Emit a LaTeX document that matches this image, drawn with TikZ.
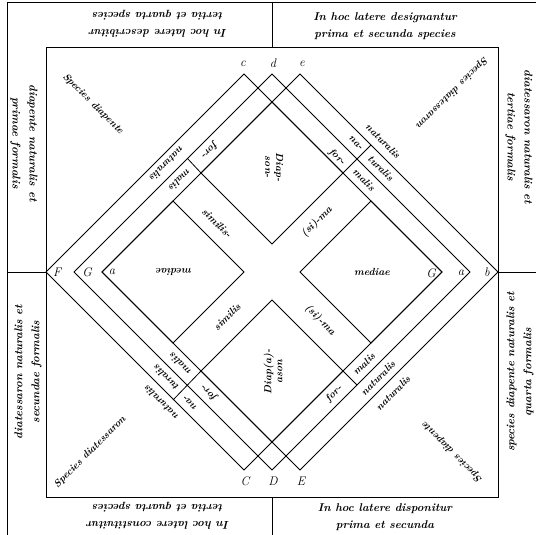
\documentclass[tikz,border=0pt]{standalone}
\usepackage{fontspec}
\begin{document}
\begin{tikzpicture}[x=1pt,y=-1pt,
  ln/.style={line width=0.8pt},
  cell/.style={font=\fontsize{11.3}{17}\selectfont\bfseries\itshape, align=center, inner sep=0pt},
  lab/.style={font=\fontsize{10}{11}\selectfont\bfseries\itshape, inner sep=0pt},
  cen/.style={font=\fontsize{10.3}{11}\selectfont\bfseries\itshape, inner sep=0pt, align=center},
  pt/.style={font=\fontsize{12.5}{14}\selectfont\itshape, inner sep=0pt}]
\useasboundingbox (0,0) rectangle (536,535);
% outer frame
\coordinate (o1) at (7,2); \coordinate (o2) at (536,2); \coordinate (o3) at (7,535);
\coordinate (q1) at (46,47.5); \coordinate (q2) at (498,497.5);
\coordinate (dt1) at (272,2); \coordinate (dt2) at (272,47.5);
\coordinate (db1) at (272,497.5); \coordinate (db2) at (272,535);
\coordinate (dl1) at (7,272); \coordinate (dr2) at (536,272);
\draw[ln] (o3) -- (o1) -- (o2);
\draw[ln] (q1) rectangle (q2);
\draw[ln] (dt1) -- (dt2);
\draw[ln] (db1) -- (db2);
% big squares
\coordinate (F) at (46,272); \coordinate (c) at (244,74); \coordinate (Gr) at (442,272); \coordinate (C) at (244,470);
\coordinate (Gl) at (74,272); \coordinate (d) at (272,74); \coordinate (ar) at (470,272); \coordinate (D) at (272,470);
\coordinate (al) at (102,272); \coordinate (e) at (300,74); \coordinate (b) at (498,272); \coordinate (E) at (300,470);
\draw[ln] (dl1) -- (F);
\draw[ln] (b) -- (dr2);
\draw[ln] (F) -- (c) -- (Gr) -- (C) -- cycle;
\draw[ln] (Gl) -- (d) -- (ar) -- (D) -- cycle;
\draw[ln] (al) -- (e) -- (b) -- (E) -- cycle;
% inner diamonds
\coordinate (Lt) at (173,201); \coordinate (Lr) at (244,272); \coordinate (Lb) at (173,343);
\coordinate (Rl) at (300,272); \coordinate (Rt) at (371,201); \coordinate (Rb) at (371,343);
\coordinate (Tt) at (272,102); \coordinate (Tr) at (343,173); \coordinate (Tb) at (272,244); \coordinate (Tl) at (201,173);
\coordinate (Bt) at (272,300); \coordinate (Br) at (343,371); \coordinate (Bb) at (272,442); \coordinate (Bl) at (201,371);
\draw[ln] (al) -- (Lt) -- (Lr) -- (Lb) -- cycle;
\draw[ln] (Rl) -- (Rt) -- (Gr) -- (Rb) -- cycle;
\draw[ln] (Tt) -- (Tr) -- (Tb) -- (Tl) -- cycle;
\draw[ln] (Bt) -- (Br) -- (Bb) -- (Bl) -- cycle;
% dividers
\coordinate (xUL) at (187.5,158.5); \coordinate (xUR) at (371,145);
\coordinate (xLL) at (173,400); \coordinate (xLR) at (357,385);
\draw[ln] (Tl) -- (xUL);
\draw[ln] (Tr) -- (xUR);
\draw[ln] (Bl) -- (xLL);
\draw[ln] (Br) -- (xLR);
% point labels
\node[pt] (lc) at (243,64) {c};
\node[pt] (ld) at (273,63) {d};
\node[pt] (le) at (302,64) {e};
\node[pt] (lC) at (245,481) {C};
\node[pt] (lD) at (273,481) {D};
\node[pt] (lE) at (301,481) {E};
\node[pt] (lF) at (57,272) {F};
\node[pt] (lGl) at (87,272) {G};
\node[pt] (lal) at (112,272) {a};
\node[pt] (lGr) at (431,273) {G};
\node[pt] (lar) at (461,273) {a};
\node[pt] (lb) at (487,272) {b};
% cell texts
\node[cell,rotate=180] (tTL) at (158,24) {In hoc latere describitur\\tertia et quarta species};
\node[cell] (tTR) at (385,26) {In hoc latere designantur\\prima et secunda species};
\node[cell,rotate=180] (tBL) at (158,516) {In hoc latere constituitur\\tertia et quarta species};
\node[cell] (tBR) at (385,517) {In hoc latere disponitur\\prima et secunda};
\node[cell,rotate=-90] (tLT) at (24,143) {diapente naturalis et\\primae formalis};
\node[cell,rotate=-90] (tRT) at (519,137) {diatessaron naturalis et\\tertiae formalis};
\node[cell,rotate=90] (tLB) at (28,372) {diatessaron naturalis et\\secundae formalis};
\node[cell,rotate=90] (tRB) at (520,372) {species diapente naturalis et\\quarta formalis};
% corner species
\node[lab,rotate=-45] (sUL) at (93,104) {Species diapente};
\node[lab,rotate=225] (sUR) at (452,93) {Species diatessaron};
\node[lab,rotate=45] (sLL) at (90,452) {Species diatessaron};
\node[lab,rotate=135] (sLR) at (452,452) {Species diapente};
% strip labels UL
\node[lab,rotate=225] (nUL) at (167,164) {naturalis};
\node[lab,rotate=225] (fUL) at (209.5,150.5) {for-};
\node[lab,rotate=225] (mUL) at (180,180) {malis};
% UR
\node[lab,rotate=-45] (nUR) at (383,141) {naturalis};
\node[lab,rotate=-45] (naUR) at (355.75,143.25) {na-};
\node[lab,rotate=-45] (tuUR) at (380.75,168.25) {turalis};
\node[lab,rotate=-45] (fUR) at (337,157) {for-};
\node[lab,rotate=-45] (mUR) at (364,180) {malis};
% LL
\node[lab,rotate=135] (nLL) at (161,403) {naturalis};
\node[lab,rotate=135] (naLL) at (190,403) {na-};
\node[lab,rotate=135] (tuLL) at (166,378) {turalis};
\node[lab,rotate=135] (fLL) at (209,393) {for-};
\node[lab,rotate=135] (mLL) at (180,364) {malis};
% LR
\node[lab,rotate=45] (fLR) at (334,394) {for-};
\node[lab,rotate=45] (mLR) at (364,364) {malis};
\node[lab,rotate=45] (nLR) at (378,378) {naturalis};
\node[lab,rotate=45] (n2LR) at (393,393) {naturalis};
% centre labels
\node[cen,rotate=-45] (sim1) at (217,223) {similis-};
\node[cen,rotate=45] (dis1) at (317,222) {(si)-ma};
\node[cen,rotate=45] (sim2) at (227,317) {similis};
\node[cen,rotate=-45] (dis2) at (320,320) {(si)-ma};
\node[cen,rotate=180] (medL) at (174,272) {mediae};
\node[cen] (medR) at (372,272) {mediae};
\node[cen,rotate=-90] (dT) at (274,167) {Diap-\\son-};
\node[cen,rotate=90] (dB) at (273,372) {Diap(a)-\\ason};
\end{tikzpicture}
\end{document}
